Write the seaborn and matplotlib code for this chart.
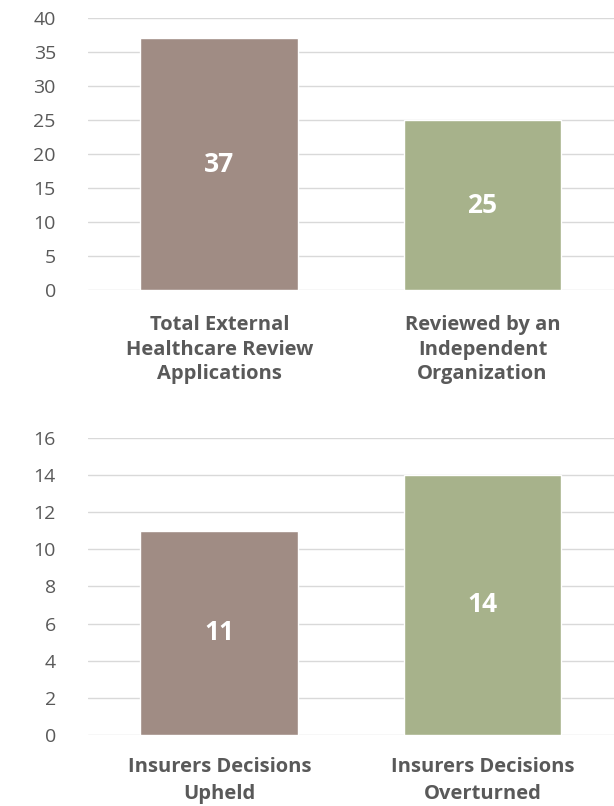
import numpy as np
import pandas as pd
import matplotlib
matplotlib.use("Agg")
import matplotlib.pyplot as plt
import seaborn as sns

# chart data
top_categories = ["Total External\nHealthcare Review\nApplications",
                  "Reviewed by an\nIndependent\nOrganization"]
top_values = [37, 25]
top_ticks = [0, 5, 10, 15, 20, 25, 30, 35, 40]

bottom_categories = ["Insurers Decisions\nUpheld", "Insurers Decisions\nOverturned"]
bottom_values = [11, 14]
bottom_ticks = [0, 2, 4, 6, 8, 10, 12, 14, 16]

bar_colors = ["#A08C84", "#A7B28B"]

sns.set_theme(style="white")
plt.rcParams['font.family'] = ['Open Sans', 'DejaVu Sans']

fig = plt.figure(figsize=(6.14, 8.06), dpi=100)
ax1 = fig.add_axes([0.143, 0.640, 0.857, 0.338])
ax2 = fig.add_axes([0.143, 0.088, 0.857, 0.369])


def draw_panel(ax, cats, vals, ticks, spacing, xpad):
    df = pd.DataFrame({"cat": cats, "val": vals})
    sns.barplot(data=df, x="cat", y="val", hue="cat", palette=bar_colors,
                saturation=1, legend=False, width=0.6, ax=ax, zorder=3)
    ax.set_ylim(ticks[0], ticks[-1])
    ax.set_yticks(ticks)
    ax.set_xlim(-0.5, 1.5)
    ax.grid(axis="y", color="#D9D9D9", linewidth=1, zorder=0)
    ax.set_axisbelow(True)
    for s in ax.spines.values():
        s.set_visible(False)
    ax.set_xlabel("")
    ax.set_ylabel("")
    ax.tick_params(axis="y", length=0, labelsize=14, labelcolor="#595959", pad=23)
    ax.tick_params(axis="x", length=0, pad=xpad)
    for t in ax.get_yticklabels():
        t.set_horizontalalignment("right")
    for t in ax.get_xticklabels():
        t.set_fontsize(14.5)
        t.set_fontweight("bold")
        t.set_color("#595959")
        t.set_linespacing(spacing)
    for c in ax.containers:
        ax.bar_label(c, label_type="center", color="white", fontsize=19,
                     fontweight="bold")


draw_panel(ax1, top_categories, top_values, top_ticks, 1.3, 18)
draw_panel(ax2, bottom_categories, bottom_values, bottom_ticks, 1.45, 16)

fig.savefig("out.png", dpi=100)
